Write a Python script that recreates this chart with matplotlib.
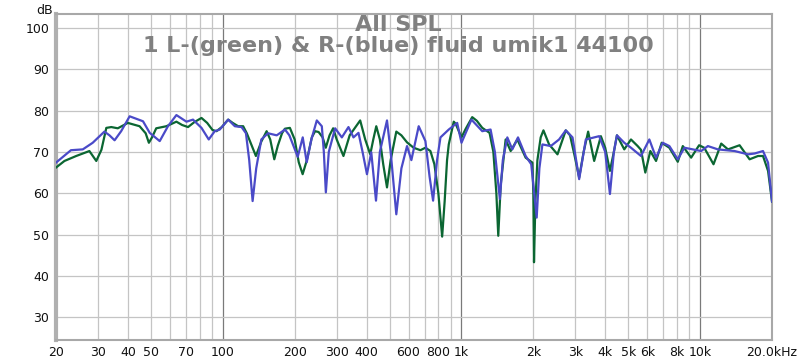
import numpy as np
import matplotlib.pyplot as plt
from matplotlib.ticker import FixedLocator, NullFormatter

# left channel (green)
l_freq = [20.0, 21.7, 24.3, 27.6, 29.5, 31.0, 32.5, 34.1, 36.3, 40.0, 44.8, 47.5, 49.0, 50.5,
          52.6, 58.0, 63.9, 67.5, 71.5, 76.0, 81.4, 86.0, 90.5, 94.1, 99.0, 105.3, 110, 116,
          121.7, 126, 129.9, 137.6, 145, 152.6, 158, 164.3, 170, 177, 182, 191, 200, 208, 216,
          225, 236, 243.6, 252, 262, 270, 280, 289.9, 300, 320.2, 340, 376.3, 395, 414.7, 427,
          439.5, 455, 470, 487.4, 505, 533.2, 560, 591.3, 630, 672.7, 706, 741, 770, 800, 829.8,
          850, 870, 884.5, 928.1, 945, 1000, 1040, 1109, 1160, 1222, 1311, 1360, 1400, 1426,
          1460, 1531, 1607, 1714, 1857, 1982, 2000, 2013, 2040, 2080, 2147, 2205, 2328, 2525,
          2735, 2850, 2980, 3112, 3250, 3394, 3597, 3837, 4000, 4188, 4350, 4481, 4809, 5130,
          5472, 5650, 5891, 6184, 6534, 6900, 7431, 8058, 8459, 9167, 9900, 10400, 11375, 12254,
          13078, 14628, 16111, 17474, 18337, 19253, 20000]
l_db = [66.2, 67.8, 69.0, 70.2, 67.8, 70.5, 75.8, 76.0, 75.7, 77.0, 76.2, 74.5, 72.2, 73.5,
        75.7, 76.2, 77.3, 76.5, 76.0, 77.2, 78.2, 77.0, 75.3, 75.0, 76.0, 77.8, 77.0, 76.2,
        76.2, 74.5, 72.6, 69.0, 72.5, 75.0, 73.0, 68.2, 71.5, 74.5, 75.6, 75.8, 73.0, 67.5, 64.6,
        68.0, 73.5, 75.0, 74.8, 73.5, 71.0, 74.0, 75.7, 73.0, 69.0, 74.0, 77.6, 73.0, 69.4, 73.0,
        76.2, 73.0, 67.0, 61.4, 68.0, 74.9, 74.0, 72.3, 71.0, 70.4, 71.0, 70.2, 67.0, 60.0, 49.5,
        58.0, 68.0, 71.8, 77.3, 76.8, 73.5, 75.5, 78.4, 77.5, 75.8, 74.6, 70.0, 60.0, 49.7,
        62.0, 73.0, 70.2, 73.0, 68.6, 67.4, 60.0, 43.3, 58.0, 68.0, 73.5, 75.2, 71.8, 69.4,
        75.2, 74.0, 69.0, 63.8, 70.0, 74.9, 67.8, 73.8, 71.0, 65.4, 70.0, 74.0, 70.6, 73.0,
        71.4, 70.5, 65.0, 70.2, 67.8, 72.2, 71.0, 67.6, 71.4, 68.6, 71.6, 71.0, 67.0, 72.0,
        70.6, 71.6, 68.2, 69.0, 69.0, 65.4, 58.0]

# right channel (blue)
r_freq = [20.0, 23.1, 25.9, 28.5, 31.9, 33.5, 35.2, 37.5, 40.7, 46.3, 49.4, 54.4, 58.9, 63.9,
          70.4, 75.0, 81.4, 87.3, 92.5, 97.1, 105.3, 112.3, 119.8, 125, 129, 133.3, 138, 145,
          154.6, 168.2, 182.2, 190, 206.0, 216.2, 224.7, 235, 247.6, 259.9, 265, 270.2, 278,
          295.5, 315.3, 336.1, 352.7, 370.2, 385, 401.7, 418.8, 438.3, 455, 487.4, 505, 533.2,
          560, 591.3, 616.6, 661.8, 706, 735, 760.4, 790, 816.4, 884.5, 959.3, 1000, 1101, 1222,
          1324, 1380, 1448, 1490, 1556, 1633, 1725, 1857, 1960, 2066, 2120, 2183, 2366, 2564,
          2735, 2919, 3112, 3319, 3542, 3775, 4000, 4188, 4350, 4481, 4809, 5130, 5650, 6124,
          6534, 6970, 7431, 8058, 8590, 9318, 10097, 10775, 11866, 13939, 15864, 16910, 18337,
          19253, 20000]
r_db = [67.4, 70.4, 70.6, 72.2, 74.9, 74.0, 72.8, 75.0, 78.6, 77.4, 74.6, 72.6, 76.2, 78.9,
        77.3, 77.8, 75.8, 73.0, 75.0, 75.4, 77.8, 76.2, 76.0, 74.5, 68.0, 58.1, 66.0, 73.0,
        74.5, 74.0, 75.4, 74.0, 68.8, 73.5, 67.5, 73.0, 77.6, 76.2, 70.0, 60.2, 70.0,
        75.7, 73.5, 76.0, 73.5, 74.6, 70.0, 64.6, 69.9, 58.2, 70.0, 77.6, 70.0, 54.9,
        66.0, 71.4, 68.0, 76.2, 72.6, 64.0, 58.2, 68.0, 73.5, 75.4, 77.0, 72.2, 77.8, 75.0,
        75.4, 70.0, 58.6, 68.0, 73.5, 70.6, 73.5, 69.0, 67.0, 54.1, 66.0, 71.8, 71.4, 73.0,
        75.2, 73.5, 63.4, 73.0, 73.4, 73.8, 70.0, 59.8, 70.0, 74.0, 72.2, 71.0, 69.0, 73.0,
        68.6, 72.2, 71.4, 68.2, 71.0, 70.6, 70.2, 71.4, 70.6, 70.2, 69.4, 69.6, 70.2,
        67.4, 58.0]

x_ticks = [20, 30, 40, 50, 70, 100, 200, 300, 400, 600, 800, 1000, 2000, 3000, 4000, 5000,
           6000, 8000, 10000, 20000]
x_labels = ['20', '30', '40', '50', '70', '100', '200', '300', '400', '600', '800', '1k',
            '2k', '3k', '4k', '5k', '6k', '8k', '10k', '20.0kHz']
y_ticks = [30, 40, 50, 60, 70, 80, 90, 100]

fig = plt.figure(figsize=(8, 3.6), dpi=100)
ax = fig.add_axes([0.07, 0.0556, 0.895, 0.905])
ax.set_xscale('log')
ax.set_xlim(20, 20000)
ax.set_ylim(24.5, 103.3)

# grid
grid_x = [m * 10 ** d for d in range(1, 5) for m in range(1, 10) if 20 <= m * 10 ** d <= 20000]
for gx in grid_x:
    if gx in (100, 1000, 10000):
        ax.axvline(gx, color='#7a7a7a', lw=0.9, zorder=1)
    else:
        ax.axvline(gx, color='#c4c4c4', lw=0.9, zorder=1)
for gy in y_ticks:
    ax.axhline(gy, color='#c4c4c4', lw=0.9, zorder=1)

ax.plot(l_freq, l_db, color='#0b6632', lw=1.6, zorder=3, solid_joinstyle='round')
ax.plot(r_freq, r_db, color='#4a4ac8', lw=1.6, zorder=4, solid_joinstyle='round')

ax.xaxis.set_major_locator(FixedLocator(x_ticks))
ax.xaxis.set_minor_formatter(NullFormatter())
ax.xaxis.set_minor_locator(FixedLocator([]))
ax.set_xticklabels(x_labels)
ax.set_yticks(y_ticks)
ax.tick_params(axis='both', length=0, labelsize=9, colors='#111111')
ax.tick_params(axis='x', pad=4)
ax.tick_params(axis='y', pad=5)

for side in ['top', 'right', 'bottom']:
    ax.spines[side].set_color('#a8a8a8')
    ax.spines[side].set_linewidth(1.5)
ax.spines['left'].set_color('#b0b0b0')
ax.spines['left'].set_linewidth(3)

fig.text(0.045, 0.99, 'dB', fontsize=9, va='top', ha='left', color='#111111')
fig.text(0.4975, 0.958, 'All SPL\n1 L-(green) & R-(blue) fluid umik1 44100',
         fontsize=16, fontweight='bold', color='#808080', ha='center', va='top',
         multialignment='center', linespacing=1.05)

fig.savefig('out.png', dpi=100)
